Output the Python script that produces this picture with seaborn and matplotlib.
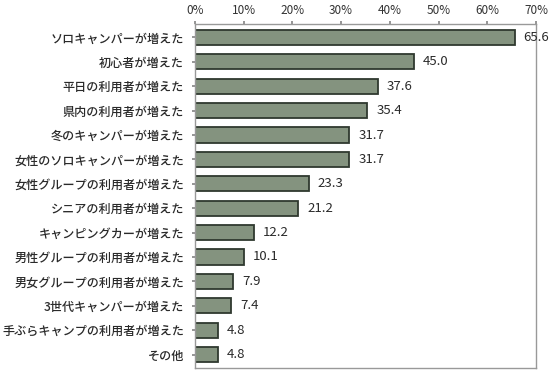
import matplotlib
matplotlib.use("Agg")
import matplotlib.pyplot as plt
import seaborn as sns
import pandas as pd

categories = ["ソロキャンパーが増えた", "初心者が増えた", "平日の利用者が増えた", "県内の利用者が増えた",
              "冬のキャンパーが増えた", "女性のソロキャンパーが増えた", "女性グループの利用者が増えた",
              "シニアの利用者が増えた", "キャンピングカーが増えた", "男性グループの利用者が増えた",
              "男女グループの利用者が増えた", "3世代キャンパーが増えた", "手ぶらキャンプの利用者が増えた", "その他"]
values = [65.6, 45.0, 37.6, 35.4, 31.7, 31.7, 23.3, 21.2, 12.2, 10.1, 7.9, 7.4, 4.8, 4.8]
xticks = [0, 10, 20, 30, 40, 50, 60, 70]
xticklabels = ["0%", "10%", "20%", "30%", "40%", "50%", "60%", "70%"]

sns.set_theme(style="white")
plt.rcParams['font.family'] = ['Noto Sans CJK JP', 'DejaVu Sans']

df = pd.DataFrame({"cat": categories, "val": values})

fig = plt.figure(figsize=(5.5, 3.76), dpi=100)
ax = fig.add_axes([195/550, 8/376, (536-195)/550, (368-24)/376])
sns.barplot(data=df, x="val", y="cat", ax=ax, color="#84937f", saturation=1,
            width=0.62, edgecolor="#2f392f", linewidth=1.3)

ax.set_xlim(0, 70)
ax.set_ylim(len(categories) - 0.45, -0.55)
ax.xaxis.tick_top()
ax.set_xticks(xticks)
ax.set_xticklabels(xticklabels, fontsize=8.5, color="#333333")
ax.tick_params(axis="x", length=2, pad=3, color="#888888")
ax.tick_params(axis="y", length=2, pad=6, labelsize=8.7, color="#888888", left=True)
for lbl in ax.get_yticklabels():
    lbl.set_color("#2a2a2a")
    lbl.set_fontweight("medium")
ax.set_xlabel("")
ax.set_ylabel("")
for s in ax.spines.values():
    s.set_color("#999999")
    s.set_linewidth(1.0)

for i, v in enumerate(values):
    ax.text(v + 1.8, i, f"{v:.1f}", va="center", ha="left", fontsize=9.5, color="#2a2a2a")

fig.savefig("out.png", dpi=100)
